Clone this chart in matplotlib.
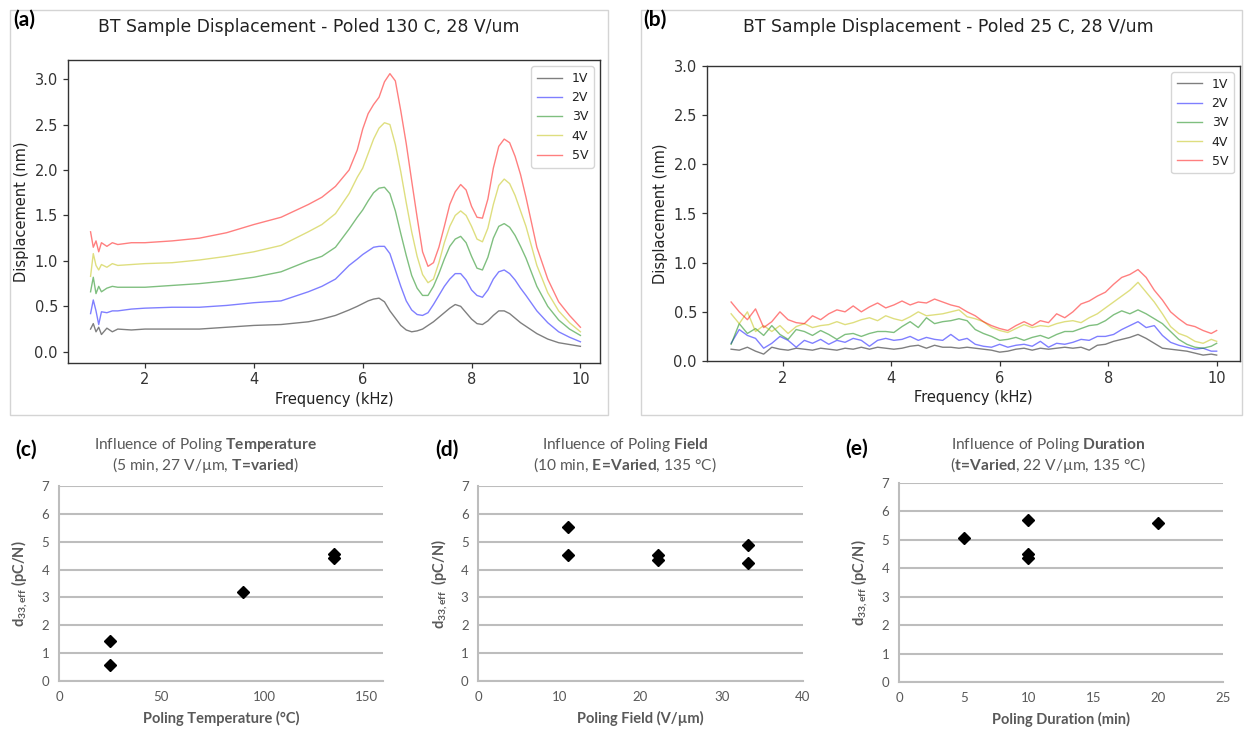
import numpy as np
import matplotlib
matplotlib.use('Agg')
import matplotlib.pyplot as plt
from matplotlib.patches import Rectangle

# ---------------- data: panel (a) poled 130 C ----------------
freq_a = [1.0, 1.05, 1.1, 1.15, 1.2, 1.3, 1.4, 1.5, 1.75, 2.0, 2.5, 3.0, 3.5, 4.0, 4.5,
          5.0, 5.25, 5.5, 5.75, 5.9, 6.0, 6.1, 6.2, 6.3, 6.4, 6.5, 6.6, 6.7, 6.8, 6.9,
          7.0, 7.1, 7.2, 7.3, 7.4, 7.5, 7.6, 7.7, 7.8, 7.9, 8.0, 8.1, 8.2, 8.3, 8.4,
          8.5, 8.6, 8.7, 8.8, 8.9, 9.0, 9.2, 9.4, 9.6, 9.8, 10.0]
a_1V = [0.25, 0.31, 0.22, 0.27, 0.19, 0.26, 0.22, 0.25, 0.24, 0.25, 0.25, 0.25, 0.27, 0.29, 0.30,
        0.33, 0.36, 0.40, 0.46, 0.50, 0.53, 0.56, 0.58, 0.59, 0.55, 0.45, 0.37, 0.29, 0.24, 0.22,
        0.23, 0.25, 0.29, 0.33, 0.38, 0.43, 0.48, 0.52, 0.50, 0.43, 0.36, 0.31, 0.30, 0.34, 0.40,
        0.45, 0.45, 0.42, 0.37, 0.32, 0.28, 0.20, 0.14, 0.10, 0.08, 0.06]
a_2V = [0.42, 0.57, 0.45, 0.30, 0.44, 0.43, 0.45, 0.45, 0.47, 0.48, 0.49, 0.49, 0.51, 0.54, 0.56,
        0.66, 0.72, 0.80, 0.95, 1.02, 1.07, 1.11, 1.15, 1.16, 1.16, 1.08, 0.90, 0.72, 0.56, 0.46,
        0.41, 0.40, 0.43, 0.52, 0.62, 0.72, 0.80, 0.86, 0.86, 0.79, 0.68, 0.62, 0.60, 0.68, 0.80,
        0.88, 0.90, 0.86, 0.79, 0.70, 0.62, 0.45, 0.32, 0.22, 0.16, 0.11]
a_3V = [0.66, 0.82, 0.64, 0.72, 0.66, 0.70, 0.72, 0.71, 0.71, 0.71, 0.73, 0.75, 0.78, 0.82, 0.88,
        1.00, 1.05, 1.15, 1.35, 1.48, 1.56, 1.66, 1.75, 1.80, 1.81, 1.74, 1.55, 1.30, 1.06, 0.84,
        0.70, 0.62, 0.62, 0.72, 0.86, 1.02, 1.16, 1.24, 1.27, 1.20, 1.05, 0.92, 0.90, 1.04, 1.25,
        1.38, 1.41, 1.37, 1.28, 1.16, 1.03, 0.72, 0.50, 0.35, 0.25, 0.18]
a_4V = [0.83, 1.08, 0.95, 0.90, 0.96, 0.93, 0.97, 0.95, 0.96, 0.97, 0.98, 1.01, 1.05, 1.10, 1.17,
        1.32, 1.40, 1.52, 1.74, 1.92, 2.02, 2.18, 2.34, 2.46, 2.52, 2.50, 2.28, 1.98, 1.64, 1.32,
        1.05, 0.85, 0.76, 0.80, 0.98, 1.20, 1.38, 1.50, 1.55, 1.50, 1.38, 1.24, 1.21, 1.36, 1.62,
        1.83, 1.90, 1.85, 1.72, 1.55, 1.38, 0.95, 0.65, 0.45, 0.32, 0.22]
a_5V = [1.32, 1.15, 1.22, 1.10, 1.20, 1.16, 1.20, 1.18, 1.20, 1.20, 1.22, 1.25, 1.31, 1.40, 1.48,
        1.62, 1.70, 1.82, 2.00, 2.22, 2.45, 2.62, 2.72, 2.80, 2.97, 3.06, 2.98, 2.65, 2.29, 1.88,
        1.48, 1.10, 0.94, 0.98, 1.15, 1.38, 1.62, 1.76, 1.84, 1.78, 1.60, 1.48, 1.47, 1.68, 2.02,
        2.26, 2.34, 2.30, 2.15, 1.95, 1.70, 1.15, 0.80, 0.55, 0.40, 0.27]

# ---------------- data: panel (b) poled 25 C ----------------
freq_b = [1.05, 1.2, 1.35, 1.5, 1.65, 1.8, 1.95, 2.1, 2.25, 2.4, 2.55, 2.7, 2.85, 3.0, 3.15,
          3.3, 3.45, 3.6, 3.75, 3.9, 4.05, 4.2, 4.35, 4.5, 4.65, 4.8, 4.95, 5.1, 5.25, 5.4,
          5.55, 5.7, 5.85, 6.0, 6.15, 6.3, 6.45, 6.6, 6.75, 6.9, 7.05, 7.2, 7.35, 7.5, 7.65,
          7.8, 7.95, 8.1, 8.25, 8.4, 8.55, 8.7, 8.85, 9.0, 9.15, 9.3, 9.45, 9.6, 9.75, 9.9, 10.0]
b_1V = [0.12, 0.11, 0.14, 0.10, 0.07, 0.14, 0.12, 0.11, 0.13, 0.12, 0.11, 0.13, 0.12, 0.11, 0.13,
        0.12, 0.14, 0.12, 0.14, 0.13, 0.12, 0.13, 0.15, 0.16, 0.13, 0.16, 0.14, 0.14, 0.13, 0.14,
        0.13, 0.12, 0.11, 0.09, 0.10, 0.12, 0.13, 0.11, 0.13, 0.12, 0.13, 0.14, 0.13, 0.14, 0.11,
        0.16, 0.17, 0.20, 0.22, 0.24, 0.27, 0.23, 0.18, 0.13, 0.12, 0.11, 0.10, 0.08, 0.06, 0.07, 0.06]
b_2V = [0.18, 0.32, 0.26, 0.23, 0.13, 0.18, 0.25, 0.21, 0.14, 0.21, 0.18, 0.22, 0.17, 0.21, 0.19,
        0.23, 0.21, 0.15, 0.21, 0.23, 0.21, 0.22, 0.25, 0.21, 0.24, 0.22, 0.21, 0.27, 0.21, 0.23,
        0.17, 0.15, 0.14, 0.17, 0.14, 0.16, 0.17, 0.15, 0.20, 0.14, 0.18, 0.17, 0.19, 0.22, 0.21,
        0.25, 0.25, 0.27, 0.32, 0.36, 0.40, 0.34, 0.36, 0.26, 0.19, 0.16, 0.14, 0.12, 0.13, 0.10, 0.10]
b_3V = [0.17, 0.38, 0.28, 0.33, 0.26, 0.36, 0.27, 0.22, 0.32, 0.30, 0.26, 0.31, 0.27, 0.22, 0.27,
        0.28, 0.25, 0.28, 0.30, 0.30, 0.29, 0.35, 0.40, 0.34, 0.44, 0.38, 0.40, 0.41, 0.43, 0.41,
        0.32, 0.28, 0.25, 0.21, 0.22, 0.24, 0.21, 0.24, 0.26, 0.23, 0.27, 0.30, 0.30, 0.33, 0.36,
        0.37, 0.41, 0.47, 0.51, 0.48, 0.52, 0.48, 0.43, 0.38, 0.30, 0.22, 0.17, 0.14, 0.13, 0.15, 0.18]
b_4V = [0.48, 0.38, 0.50, 0.30, 0.36, 0.30, 0.36, 0.28, 0.35, 0.38, 0.34, 0.36, 0.37, 0.40, 0.37,
        0.39, 0.42, 0.44, 0.41, 0.46, 0.43, 0.41, 0.45, 0.50, 0.46, 0.47, 0.48, 0.50, 0.52, 0.45,
        0.43, 0.40, 0.34, 0.31, 0.29, 0.33, 0.37, 0.34, 0.36, 0.35, 0.38, 0.40, 0.41, 0.39, 0.44,
        0.48, 0.54, 0.60, 0.66, 0.72, 0.80, 0.70, 0.60, 0.48, 0.35, 0.28, 0.25, 0.20, 0.18, 0.22, 0.20]
b_5V = [0.60, 0.50, 0.42, 0.53, 0.34, 0.40, 0.50, 0.42, 0.39, 0.38, 0.46, 0.42, 0.48, 0.52, 0.50,
        0.56, 0.50, 0.55, 0.59, 0.54, 0.57, 0.61, 0.57, 0.60, 0.59, 0.63, 0.60, 0.57, 0.55, 0.50,
        0.46, 0.40, 0.36, 0.33, 0.31, 0.36, 0.40, 0.36, 0.41, 0.39, 0.48, 0.44, 0.50, 0.58, 0.61,
        0.66, 0.70, 0.78, 0.85, 0.88, 0.93, 0.85, 0.72, 0.62, 0.50, 0.43, 0.37, 0.35, 0.31, 0.28, 0.31]

volt_labels = ['1V', '2V', '3V', '4V', '5V']
line_colors = ['k', 'b', 'g', 'y', 'r']

# ---------------- data: panels (c)-(e) ----------------
temp_c = [25, 25, 90, 134, 134]
d33_c = [1.42, 0.57, 3.18, 4.57, 4.42]
field_d = [11.1, 11.1, 22.2, 22.2, 33.3, 33.3]
d33_d = [5.53, 4.52, 4.52, 4.36, 4.87, 4.24]
dur_e = [5, 10, 10, 10, 20]
d33_e = [5.07, 5.69, 4.52, 4.36, 5.61]

# ---------------- figure ----------------
plt.rcParams['mathtext.fontset'] = 'custom'
plt.rcParams['mathtext.rm'] = 'Lato'
plt.rcParams['mathtext.it'] = 'Lato:italic'
plt.rcParams['mathtext.bf'] = 'Lato:bold'

W, H = 1244, 729
fig = plt.figure(figsize=(W / 100, H / 100), dpi=100)


def rect(l, t, r, b):
    return [l / W, 1 - b / H, (r - l) / W, (b - t) / H]


def fx(x):
    return x / W


def fy(y):
    return 1 - y / H


# panel borders
for (l, t, r, b) in [(10, 10, 608, 415), (641, 10, 1242, 415)]:
    fig.patches.append(Rectangle((fx(l), fy(b)), (r - l) / W, (b - t) / H,
                                 transform=fig.transFigure, fill=False,
                                 ec='#d4d4d4', lw=1.0))

top_series_a = [a_1V, a_2V, a_3V, a_4V, a_5V]
top_series_b = [b_1V, b_2V, b_3V, b_4V, b_5V]

ax_a = fig.add_axes(rect(67.7, 60, 600, 362.7))
ax_b = fig.add_axes(rect(706.7, 66, 1240, 361))

for ax, fr, series in [(ax_a, freq_a, top_series_a), (ax_b, freq_b, top_series_b)]:
    for ys, c, lab in zip(series, line_colors, volt_labels):
        ax.plot(fr, ys, color=c, alpha=0.5, lw=1.0, label=lab)
    ax.set_xlabel('Frequency (kHz)', fontsize=10.5, color='#222222', labelpad=3)
    ax.set_ylabel('Displacement (nm)', fontsize=10.5, color='#222222', labelpad=4)
    ax.tick_params(labelsize=10.5, colors='#333333', length=3.5, width=0.9)
    for s in ax.spines.values():
        s.set_color('#333333')
        s.set_linewidth(1.0)
    ax.set_xticks([2, 4, 6, 8, 10])
    ax.set_yticks([0.0, 0.5, 1.0, 1.5, 2.0, 2.5, 3.0])
    leg = ax.legend(loc='upper right', fontsize=9, frameon=True, framealpha=0.8,
                    edgecolor='#cccccc', handlelength=2.0, borderpad=0.45,
                    borderaxespad=0.5)
    for t in leg.get_texts():
        t.set_color('#222222')

ax_a.set_xlim(0.58, 10.36)
ax_a.set_ylim(-0.12, 3.21)
ax_b.set_xlim(0.6, 10.43)
ax_b.set_ylim(0.0, 3.0)

fig.text(fx(309), fy(27), 'BT Sample Displacement - Poled 130 C, 28 V/um',
         ha='center', va='center', fontsize=12.4, color='#222222')
fig.text(fx(948), fy(27), 'BT Sample Displacement - Poled 25 C, 28 V/um',
         ha='center', va='center', fontsize=12.4, color='#222222')

# ---------------- bottom scatter panels ----------------
gray_txt = '#595959'
ax_c = fig.add_axes(rect(59, 486, 382.7, 681))
ax_d = fig.add_axes(rect(478.3, 486, 802.7, 681))
ax_e = fig.add_axes(rect(899, 483, 1222.7, 682))

ax_c.plot(temp_c, d33_c, 'D', color='black', ms=6.5, ls='none')
ax_d.plot(field_d, d33_d, 'D', color='black', ms=6.5, ls='none')
ax_e.plot(dur_e, d33_e, 'D', color='black', ms=6.5, ls='none')

ax_c.set_xlim(0, 158)
ax_c.set_xticks([0, 50, 100, 150])
ax_d.set_xlim(0, 40)
ax_d.set_xticks([0, 10, 20, 30, 40])
ax_e.set_xlim(0, 25)
ax_e.set_xticks([0, 5, 10, 15, 20, 25])

xlabels = ['Poling Temperature (°C)', 'Poling Field (V/µm)', 'Poling Duration (min)']
ylabels = [r'$\mathbf{d_{33,eff}}$ (pC/N)', r'$\mathbf{d_{33,eff}}$  (pC/N)',
           r'$\mathbf{d_{33,eff}}$ (pC/N)']
for ax, xl, yl in zip([ax_c, ax_d, ax_e], xlabels, ylabels):
    ax.set_ylim(0, 7)
    ax.set_yticks(range(8))
    ax.grid(axis='y', color='#bdbdbd', lw=1.5)
    ax.grid(axis='x', visible=False)
    ax.set_axisbelow(True)
    for s in ['top', 'right']:
        ax.spines[s].set_visible(False)
    for s in ['left', 'bottom']:
        ax.spines[s].set_color('#bdbdbd')
        ax.spines[s].set_linewidth(1.5)
    ax.tick_params(length=0, labelsize=9.5, labelcolor=gray_txt, pad=7)
    for t in ax.get_xticklabels() + ax.get_yticklabels():
        t.set_family('Lato')
    ax.set_xlabel(xl, fontsize=10.5, fontweight='bold', color=gray_txt,
                  family='Lato', labelpad=6)
    ax.set_ylabel(yl, fontsize=10.5, fontweight='bold', color=gray_txt,
                  family='Lato', labelpad=8)

titles = [
    (205, 'Influence of Poling $\\mathbf{Temperature}$',
     '(5 min, 27 V/µm, $\\mathbf{T\\!=\\!varied}$)'),
    (625, 'Influence of Poling $\\mathbf{Field}$',
     '(10 min, $\\mathbf{E\\!=\\!Varied}$, 135 °C)'),
    (1048, 'Influence of Poling $\\mathbf{Duration}$',
     '($\\mathbf{t\\!=\\!Varied}$, 22 V/µm, 135 °C)'),
]
for xc, l1, l2 in titles:
    fig.text(fx(xc), fy(445), l1, ha='center', va='center', fontsize=11.2,
             color=gray_txt, family='Lato')
    fig.text(fx(xc), fy(465), l2, ha='center', va='center', fontsize=11.2,
             color=gray_txt, family='Lato')

# panel letters
for (x, y, s) in [(24, 20, '(a)'), (655, 20, '(b)'), (26, 450, '(c)'),
                  (447, 450, '(d)'), (857, 449, '(e)')]:
    fig.text(fx(x), fy(y), s, ha='center', va='center', fontsize=15,
             fontweight='bold', family='Lato', color='black')

fig.savefig('out.png', dpi=100)
